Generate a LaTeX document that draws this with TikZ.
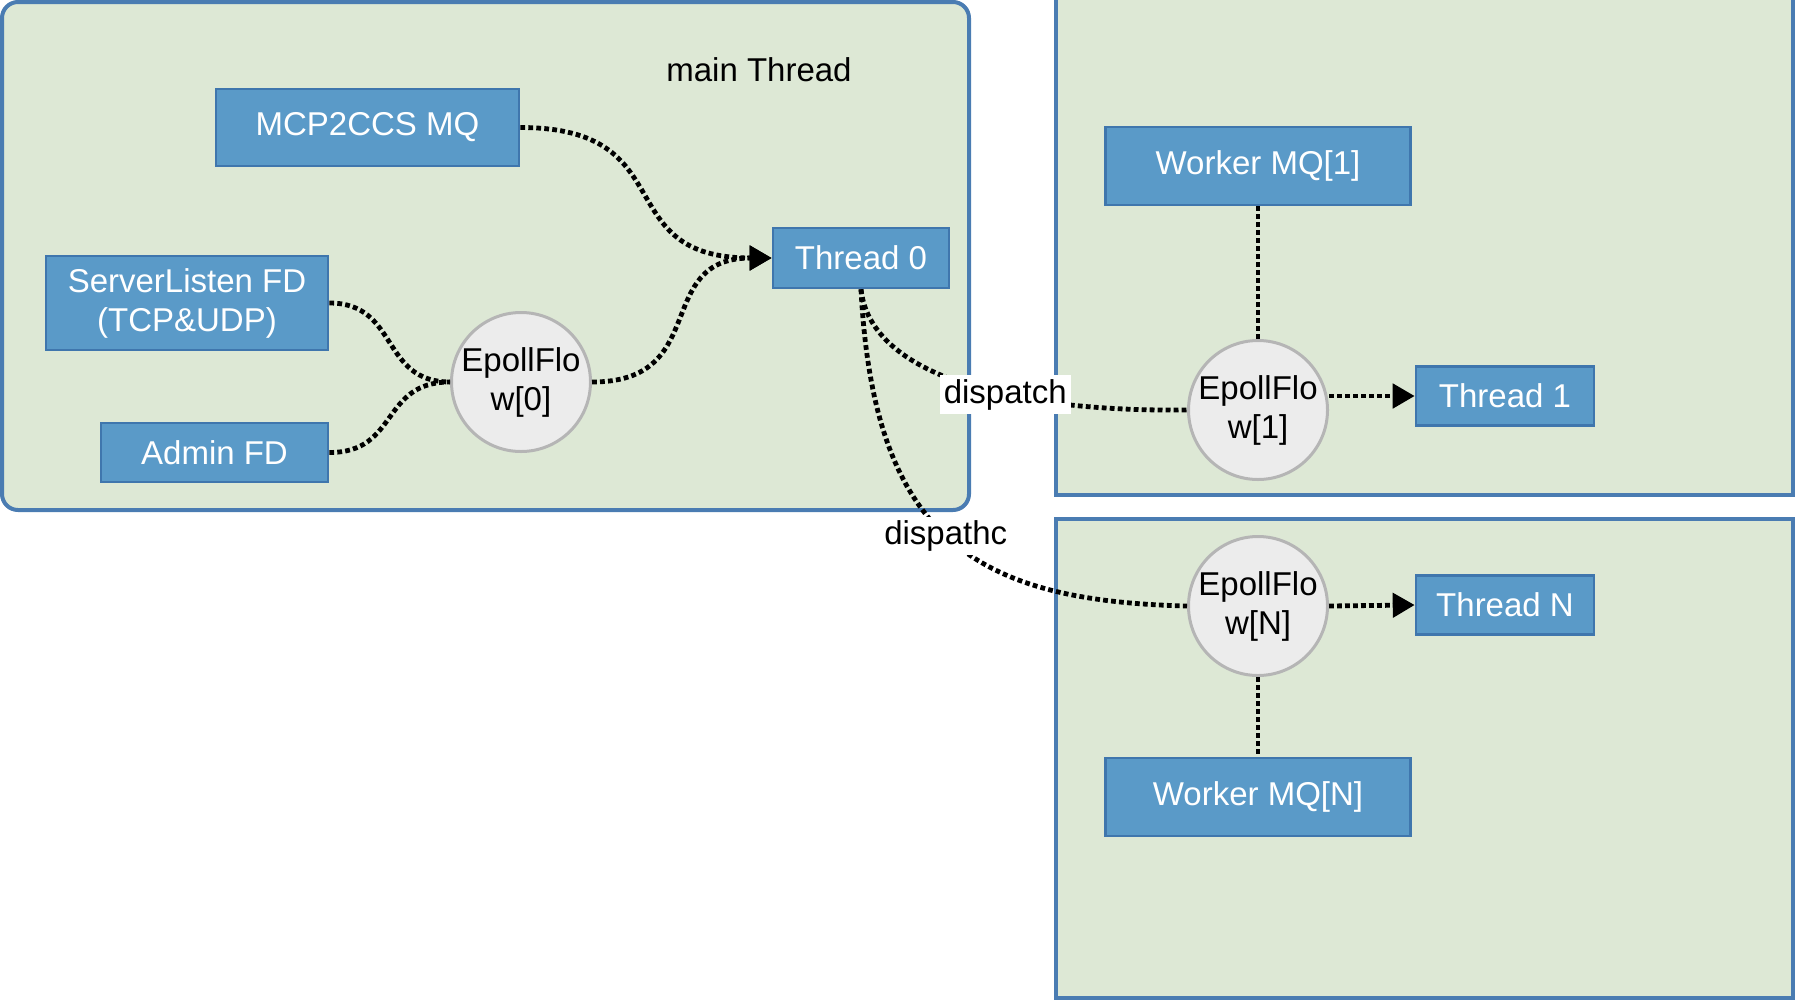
\documentclass[tikz,border=0pt]{standalone}
\usepackage{fontspec}
\setmainfont{Liberation Sans}
\usetikzlibrary{arrows.meta}
\definecolor{contfill}{HTML}{DDE8D5}
\definecolor{contline}{HTML}{4A7CB2}
\definecolor{boxfill}{HTML}{5A9AC8}
\definecolor{boxline}{HTML}{3F76AD}
\definecolor{epfill}{HTML}{ECECEC}
\definecolor{epline}{HTML}{B5B5B5}
\begin{document}
\begin{tikzpicture}[x=0.5pt,y=0.5pt,
  cont/.style={draw=contline, fill=contfill, line width=2pt},
  bluebox/.style={draw=boxline, fill=boxfill, line width=1.3pt, text=white,
    font=\fontsize{16.5}{19.5}\selectfont, align=center, inner sep=0pt},
  epoll/.style={circle, draw=epline, fill=epfill, line width=1.5pt, minimum size=69.5pt,
    inner sep=0pt, align=center, font=\fontsize{16.5}{19.5}\selectfont},
  dots/.style={line width=2.4pt, dash pattern=on 2.4pt off 1.6pt},
  arr/.style={dots, -{Triangle[length=11pt,width=12pt]}},
  lbl/.style={fill=white, font=\fontsize{16.5}{19.5}\selectfont, inner sep=2pt},
  plain/.style={font=\fontsize{16.5}{19.5}\selectfont, inner sep=0pt}
]
\useasboundingbox (0,0) rectangle (1798,-1002);

% containers
\draw[cont, rounded corners=8pt] (2,-2) rectangle (969,-510);
\draw[cont] (1056,20) rectangle (1793,-495);
\draw[cont] (1056,-519) rectangle (1793,-998);

\node[plain] (mainlbl) at (759,-70) {main Thread};

% main thread nodes
\node[bluebox, minimum width=151.5pt, minimum height=38.5pt] (mq) at (367.5,-127.5) {MCP2CCS MQ};
\node[bluebox, minimum width=88pt, minimum height=30pt] (t0) at (861,-258) {Thread 0};
\node[bluebox, minimum width=141pt, minimum height=47pt] (sl) at (187,-303) {ServerListen FD\\(TCP\&UDP)};
\node[bluebox, minimum width=113.5pt, minimum height=29.5pt] (ad) at (214.5,-452.5) {Admin FD};
\node[epoll] (ep0) at (521,-382) {EpollFlo\\w[0]};

% worker 1
\node[bluebox, minimum width=152.5pt, minimum height=39pt] (wm1) at (1258,-166) {Worker MQ[1]};
\node[epoll] (ep1) at (1258,-410) {EpollFlo\\w[1]};
\node[bluebox, minimum width=89pt, minimum height=29.5pt] (t1) at (1505,-396) {Thread 1};

% worker N
\node[epoll] (epN) at (1258,-606) {EpollFlo\\w[N]};
\node[bluebox, minimum width=89pt, minimum height=29.5pt] (tN) at (1505,-605) {Thread N};
\node[bluebox, minimum width=152.5pt, minimum height=39pt] (wmN) at (1258,-797) {Worker MQ[N]};

% connectors
\draw[dots] (sl.east) .. controls +(70,0) and +(-70,0) .. (ep0.west);
\draw[dots] (ad.east) .. controls +(70,0) and +(-70,0) .. (ep0.west);
\draw[arr] (mq.east) .. controls +(165,0) and +(-165,0) .. (t0.west);
\draw[arr] (ep0.east) .. controls +(120,0) and +(-120,0) .. (t0.west);

\draw[dots] (t0.south) .. controls +(9,-82) and +(-189,-2) .. node[lbl, pos=0.63] {dispatch} (ep1.west);
\draw[dots] (t0.south) .. controls +(13,-252) and +(-209,5) .. node[lbl, pos=0.485] {dispathc} (epN.west);

\draw[arr] (ep1.east |- t1.west) -- (t1.west);
\draw[arr] (epN.east) -- (tN.west);
\draw[dots] (wm1.south) -- (ep1.north);
\draw[dots] (epN.south) -- (wmN.north);
\end{tikzpicture}
\end{document}
